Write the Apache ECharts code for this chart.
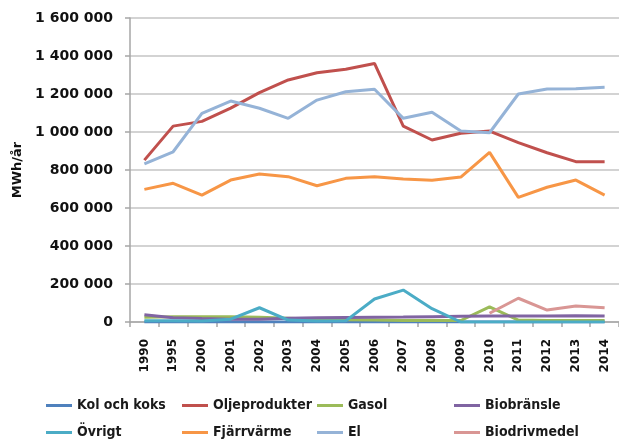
<!DOCTYPE html>
<html>
<head>
<meta charset="utf-8">
<script src="https://cdn.jsdelivr.net/npm/echarts@6/dist/echarts.min.js"></script>
<style>
  html, body { margin: 0; padding: 0; background: #fff; }
  #chart { width: 619px; height: 441px; }
</style>
</head>
<body>
<div id="chart"></div>
<script>
// årtal på x-axeln
const years = ['1990', '1995', '2000', '2001', '2002', '2003', '2004', '2005', '2006',
  '2007', '2008', '2009', '2010', '2011', '2012', '2013', '2014']

// MWh/år per energibärare
const kolOchKoks = [0, 0, 0, 0, 0, 0, 0, 0, 0, 0, 0, 0, 0, 0, 0, 0, 0]
const oljeprodukter = [852000, 1031000, 1056000, 1126000, 1207000, 1274000, 1312000, 1330000, 1361000,
  1031000, 958000, 993000, 1005000, 944000, 891000, 844000, 844000]
const gasol = [25000, 27000, 27000, 27000, 25000, 20000, 15000, 12000, 10000,
  8000, 8000, 8000, 80000, 10000, 8000, 8000, 8000]
const biobransle = [38000, 22000, 18000, 15000, 15000, 20000, 22000, 24000, 25000,
  26000, 28000, 30000, 32000, 32000, 32000, 33000, 32000]
const ovrigt = [7000, 7000, 5000, 15000, 75000, 10000, 5000, 6000, 121000,
  168000, 70000, 0, 0, 0, 0, 0, 0]
const fjarrvarme = [698000, 730000, 668000, 747000, 779000, 765000, 717000, 756000, 765000,
  753000, 746000, 763000, 893000, 656000, 709000, 747000, 668000]
const el = [832000, 896000, 1098000, 1163000, 1125000, 1072000, 1168000, 1212000, 1225000,
  1072000, 1104000, 1005000, 996000, 1200000, 1226000, 1228000, 1235000]
const biodrivmedel = [null, null, null, null, null, null, null, null, null,
  null, null, null, 46000, 125000, 63000, 84000, 75000]

const seriesDefs = [
  { name: 'Kol och koks', color: '#4F81BD', data: kolOchKoks },
  { name: 'Oljeprodukter', color: '#C0504D', data: oljeprodukter },
  { name: 'Gasol', color: '#9BBB59', data: gasol },
  { name: 'Biobränsle', color: '#8064A2', data: biobransle },
  { name: 'Övrigt', color: '#4BACC6', data: ovrigt },
  { name: 'Fjärrvärme', color: '#F79646', data: fjarrvarme },
  { name: 'El', color: '#95B3D7', data: el },
  { name: 'Biodrivmedel', color: '#D99694', data: biodrivmedel }
]

// legendkolumner (två rader)
const legendCols = [
  ['Kol och koks', 'Övrigt'],
  ['Oljeprodukter', 'Fjärrvärme'],
  ['Gasol', 'El'],
  ['Biobränsle', 'Biodrivmedel']
]
const legendLeft = [46, 182, 317, 454]

const chart = echarts.init(document.getElementById('chart'))

const fmt = v => String(v).replace(/\B(?=(\d{3})+(?!\d))/g, ' ')

const option = {
  animation: false,
  grid: {
    left: 130,
    top: 18,
    bottom: 119,
    right: -6
  },
  legend: legendCols.map((col, i) => ({
    data: col,
    orient: 'vertical',
    left: legendLeft[i],
    top: 397,
    icon: 'rect',
    itemWidth: 26,
    itemHeight: 3,
    itemGap: 10,
    padding: 0,
    selectedMode: false,
    textStyle: {
      fontFamily: 'DejaVu Sans Condensed',
      fontWeight: 'bold',
      fontSize: 14,
      lineHeight: 17,
      color: '#1a1a1a'
    }
  })),
  xAxis: {
    type: 'category',
    data: years,
    boundaryGap: true,
    axisLine: { lineStyle: { color: '#A6A6A6', width: 1.5 } },
    axisTick: { show: true, length: 5, lineStyle: { color: '#A6A6A6', width: 1.5 } },
    axisLabel: {
      rotate: 90,
      margin: 17,
      interval: 0,
      fontFamily: 'DejaVu Sans',
      fontWeight: 'bold',
      fontSize: 12,
      color: '#111'
    }
  },
  yAxis: {
    type: 'value',
    min: 0,
    max: 1600000,
    interval: 200000,
    name: 'MWh/år',
    nameLocation: 'middle',
    nameGap: 100,
    nameTextStyle: {
      fontFamily: 'DejaVu Sans',
      fontWeight: 'bold',
      fontSize: 13,
      color: '#111'
    },
    axisLine: { show: true, lineStyle: { color: '#A6A6A6', width: 1.5 } },
    axisTick: { show: true, length: 5, lineStyle: { color: '#A6A6A6', width: 1.5 } },
    splitLine: { lineStyle: { color: '#C4C4C4', width: 1.5 } },
    axisLabel: {
      margin: 17,
      fontFamily: 'DejaVu Sans',
      fontWeight: 'bold',
      fontSize: 14,
      color: '#111',
      formatter: fmt
    }
  },
  series: seriesDefs.map(s => ({
    name: s.name,
    type: 'line',
    data: s.data,
    color: s.color,
    symbol: 'none',
    silent: true,
    lineStyle: { width: 3, color: s.color }
  }))
}

chart.setOption(option)
</script>
</body>
</html>
